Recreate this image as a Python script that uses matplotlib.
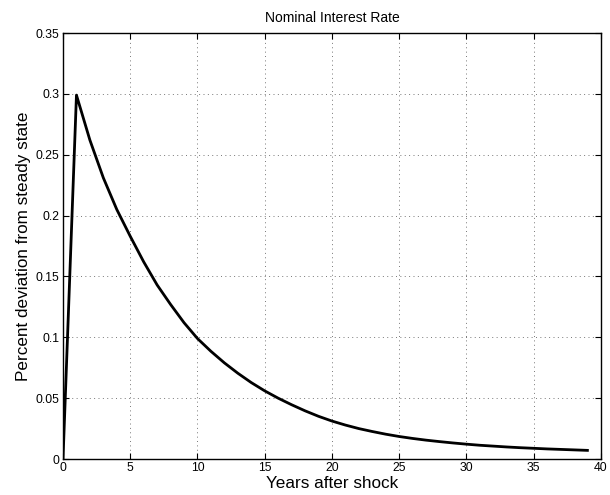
import numpy as np
import matplotlib.pyplot as plt

plt.rcParams['font.family'] = ['Liberation Sans', 'DejaVu Sans']

# years after the shock and the response of the nominal rate
years = list(range(40))
rate = [0.0, 0.299, 0.262, 0.231, 0.205, 0.183, 0.162, 0.143, 0.127, 0.112,
        0.099, 0.0885, 0.0790, 0.0705, 0.0628, 0.0560, 0.0500, 0.0446, 0.0396, 0.0351,
        0.0312, 0.0279, 0.0250, 0.0226, 0.0204, 0.0185, 0.0169, 0.0155, 0.0143, 0.0132,
        0.0122, 0.0113, 0.0106, 0.0099, 0.0093, 0.0088, 0.0083, 0.0079, 0.0075, 0.0071]

xticks = np.arange(0, 41, 5)
yticks = np.arange(0, 0.36, 0.05)

fig = plt.figure(figsize=(6.1, 4.95), dpi=100)
ax = fig.add_axes([0.1033, 0.0727, 0.8817, 0.8606])

ax.plot(years, rate, color='black', linewidth=2)

ax.set_xlim(0, 40)
ax.set_ylim(0, 0.35)
ax.set_xticks(xticks)
ax.set_yticks(yticks)
ax.set_xticklabels([str(t) for t in xticks])
ax.set_yticklabels(['0'] + ['%g' % v for v in np.round(yticks[1:], 2)])
ax.tick_params(direction='in', top=True, right=True, labelsize=8.8, length=4, pad=2.5)
ax.grid(True, linestyle=(0, (1, 3.5)), color='#777777', linewidth=0.7)
for s in ax.spines.values():
    s.set_linewidth(1.0)

ax.set_title('Nominal Interest Rate', fontsize=10, pad=8)
ax.set_xlabel('Years after shock', fontsize=12.3, labelpad=1)
ax.set_ylabel('Percent deviation from steady state', fontsize=12.3, labelpad=3)

fig.savefig('out.png', dpi=100)
